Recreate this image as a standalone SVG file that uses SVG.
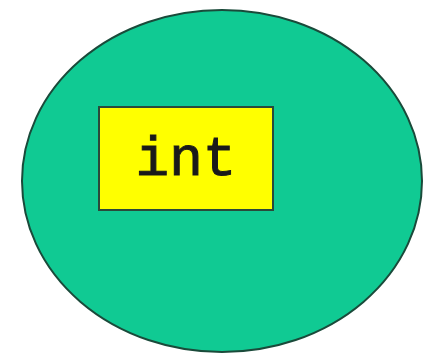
<svg xmlns="http://www.w3.org/2000/svg" width="425" height="355" viewBox="0 0 425 355">
<style>
.blob{fill:#10ca93;stroke:#1a4a3a;stroke-width:2}
.box{fill:#ffff00;stroke:#2a4a3a;stroke-width:2}
.lbl{font-family:"Liberation Mono","Courier New",monospace;font-size:56px;fill:#1a1a1a;stroke:#1a1a1a;stroke-width:1;text-anchor:middle}
</style>
<g id="type-set">
<ellipse class="blob" cx="222" cy="181" rx="200" ry="171"/>
</g>
<g id="int-node">
<rect class="box" x="99" y="107" width="174" height="103"/>
<text class="lbl" x="186" y="175">int</text>
</g>
<g id="connectors"/>
</svg>
